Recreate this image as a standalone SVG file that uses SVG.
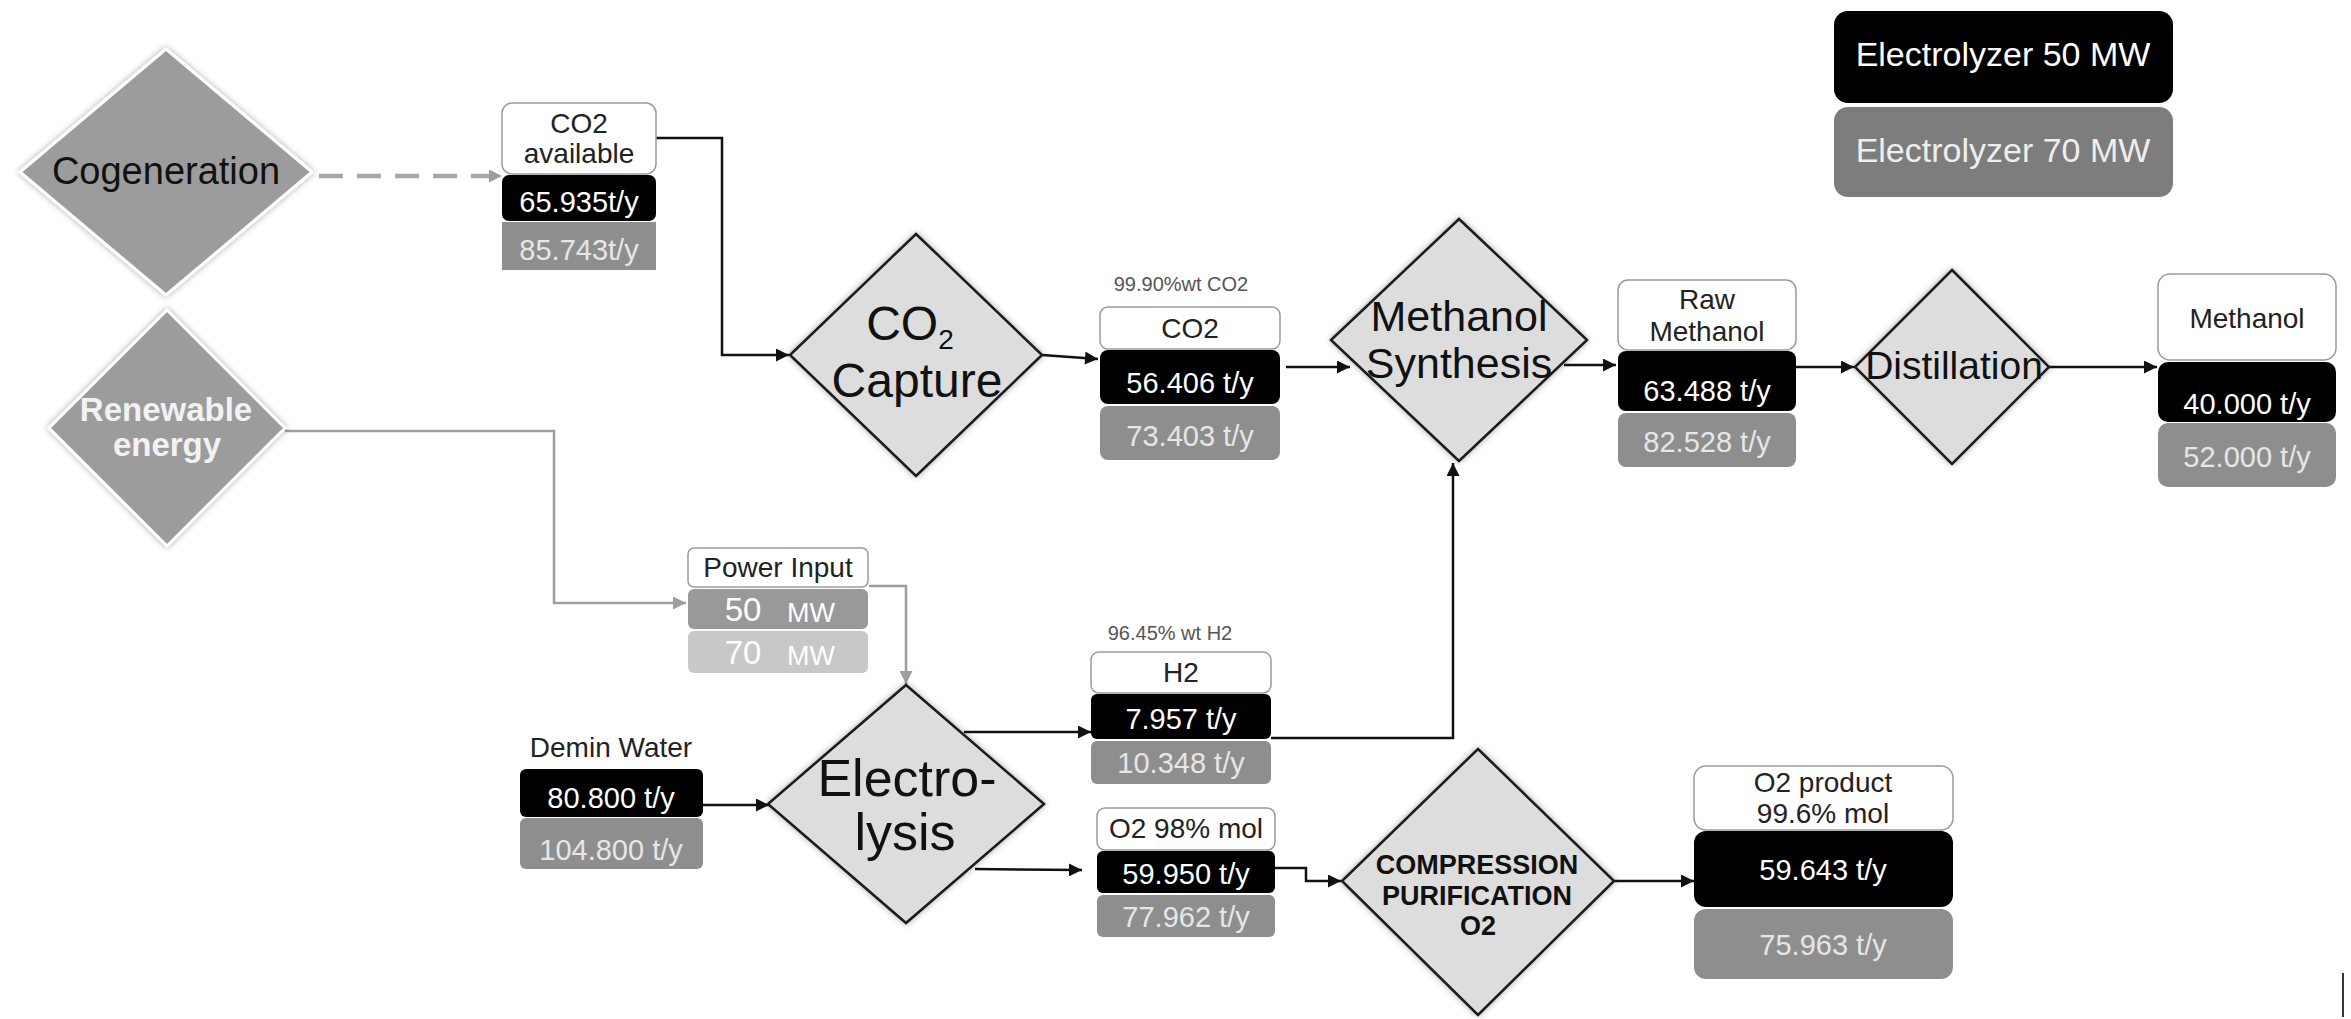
<svg xmlns="http://www.w3.org/2000/svg" width="2351" height="1019" viewBox="0 0 2351 1019">
<defs>
<style>
text{font-family:"Liberation Sans",Arial,sans-serif;text-anchor:middle}
.src{fill:#9c9c9c;stroke:#fff;stroke-width:3;filter:url(#sh)}
.proc{fill:#dddddd;stroke:#1a1a1a;stroke-width:2.5;filter:url(#sh)}
.wbox{fill:#fff;stroke:#9a9a9a;stroke-width:1.5}
.bbox{fill:#000}
.gbox{fill:#8e8e8e}
.lbl{font-size:28px;fill:#222}
.vb{font-size:29px;fill:#fff}
.vg{font-size:29px;fill:#e6e6e6}
.small{font-size:20px;fill:#555}
.cn{fill:none;stroke:#111;stroke-width:2.5}
.cg{fill:none;stroke:#9e9e9e;stroke-width:2.5}
</style>
<filter id="sh" x="-10%" y="-10%" width="120%" height="120%">
<feDropShadow dx="0" dy="0" stdDeviation="3" flood-color="#000" flood-opacity="0.35"/>
</filter>
<marker id="ab" viewBox="0 0 10 10" refX="10" refY="5" markerWidth="15" markerHeight="13" markerUnits="userSpaceOnUse" orient="auto"><path d="M0,0 L10,5 L0,10 z" fill="#111"/></marker>
<marker id="ag" viewBox="0 0 10 10" refX="10" refY="5" markerWidth="15" markerHeight="13" markerUnits="userSpaceOnUse" orient="auto"><path d="M0,0 L10,5 L0,10 z" fill="#9e9e9e"/></marker>
</defs>
<rect x="0" y="0" width="2351" height="1019" fill="#fff"/>

<g id="connectors">
<path d="M319,176 H502" fill="none" stroke="#a8a8a8" stroke-width="4.5" stroke-dasharray="24 14" marker-end="url(#ag)"/>
<path class="cn" d="M656,138 H722 V355 H789" marker-end="url(#ab)"/>
<path class="cn" d="M1042,355 L1098,359" marker-end="url(#ab)"/>
<path class="cn" d="M1286,367 H1350" marker-end="url(#ab)"/>
<path class="cn" d="M1564,365 H1616" marker-end="url(#ab)"/>
<path class="cn" d="M1796,367 H1854" marker-end="url(#ab)"/>
<path class="cn" d="M2049,367 H2157" marker-end="url(#ab)"/>
<path class="cg" d="M285,431 H554 V603 H686" marker-end="url(#ag)"/>
<path class="cg" d="M869,586 H906 V684" marker-end="url(#ag)"/>
<path class="cn" d="M703,805 H769" marker-end="url(#ab)"/>
<path class="cn" d="M964,732 H1091" marker-end="url(#ab)"/>
<path class="cn" d="M1271,738 H1453 V463" marker-end="url(#ab)"/>
<path class="cn" d="M975,869 L1082,870" marker-end="url(#ab)"/>
<path class="cn" d="M1275,868 H1306 V881 H1341" marker-end="url(#ab)"/>
<path class="cn" d="M1614,881 H1694" marker-end="url(#ab)"/>
</g>

<g id="cogeneration">
<polygon class="src" points="166,49 312,172 166,295 20,172"/>
<text x="166" y="184" font-size="38" fill="#111">Cogeneration</text>
</g>

<g id="renewable">
<polygon class="src" points="167,310 285,428 167,546 49,428"/>
<text x="166" y="421" font-size="33" font-weight="bold" fill="#f2f2f2">Renewable</text>
<text x="167" y="456" font-size="33" font-weight="bold" fill="#f2f2f2">energy</text>
</g>

<g id="co2-available">
<rect class="wbox" x="502" y="103" width="154" height="71" rx="10"/>
<rect class="bbox" x="502" y="175" width="154" height="46" rx="7"/>
<rect class="gbox" x="502" y="222" width="154" height="48"/>
<text class="lbl" x="579" y="133">CO2</text>
<text class="lbl" x="579" y="163">available</text>
<text class="vb" x="579" y="212">65.935t/y</text>
<text class="vg" x="579" y="260">85.743t/y</text>
</g>

<g id="co2-capture">
<polygon class="proc" points="916,234 1042,355 916,476 790,355"/>
<text x="910" y="340" font-size="48" fill="#111">CO<tspan font-size="28" dy="9">2</tspan></text>
<text x="917" y="397" font-size="48" fill="#111">Capture</text>
</g>

<g id="co2">
<text class="small" x="1181" y="291">99.90%wt CO2</text>
<rect class="wbox" x="1100" y="307" width="180" height="42" rx="8"/>
<rect class="bbox" x="1100" y="350" width="180" height="54" rx="8"/>
<rect class="gbox" x="1100" y="406" width="180" height="54" rx="8"/>
<text class="lbl" x="1190" y="338">CO2</text>
<text class="vb" x="1190" y="393">56.406 t/y</text>
<text class="vg" x="1190" y="446">73.403 t/y</text>
</g>

<g id="methanol-synthesis">
<polygon class="proc" points="1459,219 1587,340 1459,461 1331,340"/>
<text x="1459" y="331" font-size="43" fill="#111">Methanol</text>
<text x="1459" y="378" font-size="43" fill="#111">Synthesis</text>
</g>

<g id="raw-methanol">
<rect class="wbox" x="1618" y="280" width="178" height="70" rx="10"/>
<rect class="bbox" x="1618" y="351" width="178" height="60" rx="8"/>
<rect class="gbox" x="1618" y="413" width="178" height="54" rx="8"/>
<text class="lbl" x="1707" y="309">Raw</text>
<text class="lbl" x="1707" y="341">Methanol</text>
<text class="vb" x="1707" y="401">63.488 t/y</text>
<text class="vg" x="1707" y="452">82.528 t/y</text>
</g>

<g id="distillation">
<polygon class="proc" points="1952,270 2049,367 1952,464 1855,367"/>
<text x="1954" y="379" font-size="39" fill="#111">Distillation</text>
</g>

<g id="methanol">
<rect class="wbox" x="2158" y="274" width="178" height="86" rx="12"/>
<rect class="bbox" x="2158" y="362" width="178" height="60" rx="10"/>
<rect class="gbox" x="2158" y="423" width="178" height="64" rx="10"/>
<text class="lbl" x="2247" y="328">Methanol</text>
<text class="vb" x="2247" y="414">40.000 t/y</text>
<text class="vg" x="2247" y="467">52.000 t/y</text>
</g>

<g id="legend">
<rect x="1834" y="11" width="339" height="92" rx="14" fill="#000"/>
<rect x="1834" y="107" width="339" height="90" rx="14" fill="#7d7d7d"/>
<text x="2003" y="66" font-size="34" fill="#fff">Electrolyzer 50 MW</text>
<text x="2003" y="162" font-size="34" fill="#eee">Electrolyzer 70 MW</text>
</g>

<g id="power-input">
<rect class="wbox" x="688" y="548" width="180" height="39" rx="6"/>
<rect x="688" y="589" width="180" height="40" rx="6" fill="#999"/>
<rect x="688" y="631" width="180" height="42" rx="6" fill="#c8c8c8"/>
<text class="lbl" x="778" y="577" font-size="27">Power Input</text>
<text x="743" y="621" font-size="33" fill="#fff">50</text>
<text x="811" y="622" font-size="27" fill="#fff">MW</text>
<text x="743" y="664" font-size="33" fill="#fff">70</text>
<text x="811" y="665" font-size="27" fill="#fff">MW</text>
</g>

<g id="demin-water">
<text class="lbl" x="611" y="757" font-size="29">Demin Water</text>
<rect class="bbox" x="520" y="769" width="183" height="48" rx="6"/>
<rect class="gbox" x="520" y="818" width="183" height="51" rx="6"/>
<text class="vb" x="611" y="808">80.800 t/y</text>
<text class="vg" x="611" y="860">104.800 t/y</text>
</g>

<g id="electrolysis">
<polygon class="proc" points="906,685 1044,804 906,923 768,804"/>
<text x="907" y="796" font-size="52" fill="#111">Electro-</text>
<text x="905" y="850" font-size="52" fill="#111">lysis</text>
</g>

<g id="h2">
<text class="small" x="1170" y="640">96.45% wt H2</text>
<rect class="wbox" x="1091" y="652" width="180" height="41" rx="8"/>
<rect class="bbox" x="1091" y="694" width="180" height="45" rx="6"/>
<rect class="gbox" x="1091" y="741" width="180" height="43" rx="6"/>
<text class="lbl" x="1181" y="682">H2</text>
<text class="vb" x="1181" y="729">7.957 t/y</text>
<text class="vg" x="1181" y="773">10.348 t/y</text>
</g>

<g id="o2">
<rect class="wbox" x="1097" y="808" width="178" height="42" rx="8"/>
<rect class="bbox" x="1097" y="851" width="178" height="42" rx="6"/>
<rect class="gbox" x="1097" y="895" width="178" height="42" rx="6"/>
<text class="lbl" x="1186" y="838">O2 98% mol</text>
<text class="vb" x="1186" y="884">59.950 t/y</text>
<text class="vg" x="1186" y="927">77.962 t/y</text>
</g>

<g id="compression">
<polygon class="proc" points="1478,749 1614,881 1478,1015 1342,881"/>
<text x="1477" y="874" font-size="27" font-weight="bold" fill="#111">COMPRESSION</text>
<text x="1477" y="905" font-size="27" font-weight="bold" fill="#111">PURIFICATION</text>
<text x="1478" y="935" font-size="27" font-weight="bold" fill="#111">O2</text>
</g>

<g id="o2-product">
<rect class="wbox" x="1694" y="766" width="259" height="64" rx="12"/>
<rect class="bbox" x="1694" y="831" width="259" height="76" rx="12"/>
<rect class="gbox" x="1694" y="909" width="259" height="70" rx="12"/>
<text class="lbl" x="1823" y="792" font-size="27">O2 product</text>
<text class="lbl" x="1823" y="823" font-size="27">99.6% mol</text>
<text class="vb" x="1823" y="880">59.643 t/y</text>
<text class="vg" x="1823" y="955">75.963 t/y</text>
</g>

<line x1="2343" y1="973" x2="2343" y2="1017" stroke="#333" stroke-width="2"/>
</svg>
